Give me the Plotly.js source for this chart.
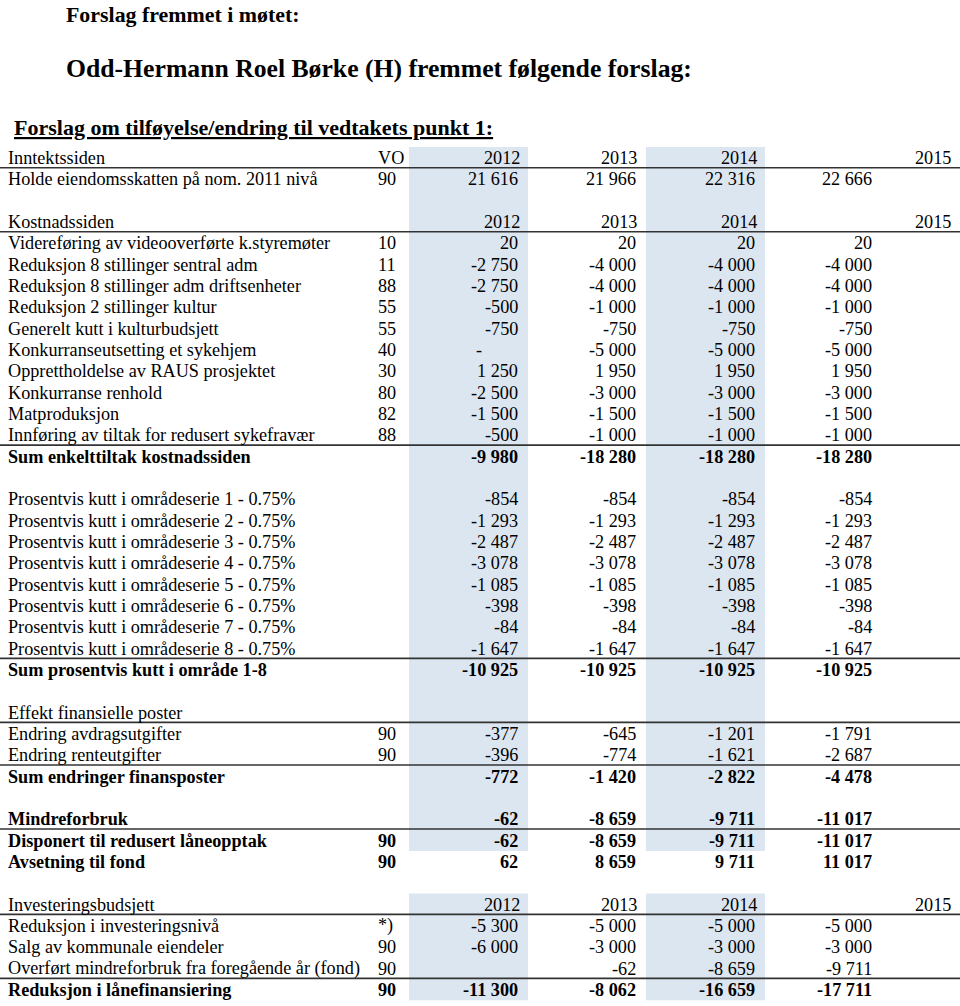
<!DOCTYPE html>
<html>
<head>
<meta charset="utf-8">
<script src="https://cdn.plot.ly/plotly-3.0.1.min.js"></script>
<style>html,body{margin:0;padding:0;background:#fff;}#chart{width:960px;height:1006px;}</style>
</head>
<body>
<div id="chart"></div>
<script>
// ---------- DATA ----------
const titleMeeting = "Forslag fremmet i møtet:";
const titleProposer = "Odd-Hermann Roel Børke (H) fremmet følgende forslag:";
const titleProposal = "Forslag om tilføyelse/endring til vedtakets punkt 1:";

const years = ["2012", "2013", "2014", "2015"];
const voHeader = "VO";

const rowLabels = [
  "Inntektssiden",
  "Holde eiendomsskatten på nom. 2011 nivå",
  "",
  "Kostnadssiden",
  "Videreføring av videooverførte k.styremøter",
  "Reduksjon 8 stillinger sentral adm",
  "Reduksjon 8 stillinger adm driftsenheter",
  "Reduksjon 2 stillinger kultur",
  "Generelt kutt i kulturbudsjett",
  "Konkurranseutsetting et sykehjem",
  "Opprettholdelse av RAUS prosjektet",
  "Konkurranse renhold",
  "Matproduksjon",
  "Innføring av tiltak for redusert sykefravær",
  "Sum enkelttiltak kostnadssiden",
  "",
  "Prosentvis kutt i områdeserie 1 - 0.75%",
  "Prosentvis kutt i områdeserie 2 - 0.75%",
  "Prosentvis kutt i områdeserie 3 - 0.75%",
  "Prosentvis kutt i områdeserie 4 - 0.75%",
  "Prosentvis kutt i områdeserie 5 - 0.75%",
  "Prosentvis kutt i områdeserie 6 - 0.75%",
  "Prosentvis kutt i områdeserie 7 - 0.75%",
  "Prosentvis kutt i områdeserie 8 - 0.75%",
  "Sum prosentvis kutt i område 1-8",
  "",
  "Effekt finansielle poster",
  "Endring avdragsutgifter",
  "Endring renteutgifter",
  "Sum endringer finansposter",
  "",
  "Mindreforbruk",
  "Disponert til redusert låneopptak",
  "Avsetning til fond",
  "",
  "Investeringsbudsjett",
  "Reduksjon i investeringsnivå",
  "Salg av kommunale eiendeler",
  "Overført mindreforbruk fra foregående år (fond)",
  "Reduksjon i lånefinansiering"
];

const voCodes = [
  "VO", "90", "", "", "10", "11", "88", "55", "55", "40", "30", "80", "82", "88", "",
  "", "", "", "", "", "", "", "", "", "",
  "", "", "90", "90", "",
  "", "", "90", "90",
  "", "", "*)", "90", "90", "90"
];

const v2012 = [null, 21616, null, null, 20, -2750, -2750, -500, -750, 0, 1250, -2500, -1500, -500, -9980,
  null, -854, -1293, -2487, -3078, -1085, -398, -84, -1647, -10925,
  null, null, -377, -396, -772,
  null, -62, -62, 62,
  null, null, -5300, -6000, null, -11300];
const v2013 = [null, 21966, null, null, 20, -4000, -4000, -1000, -750, -5000, 1950, -3000, -1500, -1000, -18280,
  null, -854, -1293, -2487, -3078, -1085, -398, -84, -1647, -10925,
  null, null, -645, -774, -1420,
  null, -8659, -8659, 8659,
  null, null, -5000, -3000, -62, -8062];
const v2014 = [null, 22316, null, null, 20, -4000, -4000, -1000, -750, -5000, 1950, -3000, -1500, -1000, -18280,
  null, -854, -1293, -2487, -3078, -1085, -398, -84, -1647, -10925,
  null, null, -1201, -1621, -2822,
  null, -9711, -9711, 9711,
  null, null, -5000, -3000, -8659, -16659];
const v2015 = [null, 22666, null, null, 20, -4000, -4000, -1000, -750, -5000, 1950, -3000, -1500, -1000, -18280,
  null, -854, -1293, -2487, -3078, -1085, -398, -84, -1647, -10925,
  null, null, -1791, -2687, -4478,
  null, -11017, -11017, 11017,
  null, null, -5000, -3000, -9711, -17711];

// ---------- STYLE / LAYOUT CONSTANTS ----------
const headerRowLabels = ["Inntektssiden", "Kostnadssiden", "Investeringsbudsjett"];
const boldRowLabels = ["Sum enkelttiltak kostnadssiden", "Sum prosentvis kutt i område 1-8",
  "Sum endringer finansposter", "Mindreforbruk", "Disponert til redusert låneopptak",
  "Avsetning til fond", "Reduksjon i lånefinansiering"];
const ruledRowLabels = ["Inntektssiden", "Kostnadssiden", "Innføring av tiltak for redusert sykefravær",
  "Prosentvis kutt i områdeserie 8 - 0.75%", "Effekt finansielle poster", "Endring renteutgifter",
  "Mindreforbruk", "Investeringsbudsjett", "Overført mindreforbruk fra foregående år (fond)"];

const W = 960, H = 1006;
const firstRowPx = 158, rowPitch = 21.33;
const py = p => (p - firstRowPx) / rowPitch;

const FONT = "'Liberation Serif', 'Times New Roman', serif";
const FS = 18.2;
const labelX = 7, voX = 377;
const valueRightX = [519, 637, 756, 873];
const headerRightX = [521, 638, 758, 952];
const bandX = [[409, 528], [646, 765]];
const bandColor = "#dce6f1";
const ruleColor = "#333333";

function fmt(v) {
  if (v === null || v === undefined) return "";
  if (v === 0) return "-" + "\u00a0".repeat(8);
  const s = Math.abs(v).toString().replace(/\B(?=(\d{3})+(?!\d))/g, "\u00a0");
  return (v < 0 ? "-" : "") + s;
}

const annotations = [];
function addText(x, y, text, anchor, bold, size) {
  if (!text) return;
  annotations.push({
    x: x, y: y, xref: "x", yref: "y", text: bold ? "<b>" + text + "</b>" : text,
    showarrow: false, xanchor: anchor, yanchor: "middle", borderpad: 0,
    font: {family: FONT, size: size || FS, color: "#000"}
  });
}

// titles
annotations.push({x: 64, y: py(14), xref: "x", yref: "y", text: "<b>" + titleMeeting + "</b>",
  showarrow: false, xanchor: "left", yanchor: "middle", font: {family: FONT, size: 21.9, color: "#000"}});
annotations.push({x: 64, y: py(68), xref: "x", yref: "y", text: "<b>" + titleProposer + "</b>",
  showarrow: false, xanchor: "left", yanchor: "middle", font: {family: FONT, size: 25.7, color: "#000"}});
annotations.push({x: 12, y: py(127), xref: "x", yref: "y", text: "<b><u>" + titleProposal + "</u></b>",
  showarrow: false, xanchor: "left", yanchor: "middle", font: {family: FONT, size: 22, color: "#000"}});

const series = [v2012, v2013, v2014, v2015];
rowLabels.forEach((lab, i) => {
  const bold = boldRowLabels.includes(lab);
  addText(labelX, i, lab, "left", bold);
  addText(voX, i, voCodes[i], "left", bold);
  if (headerRowLabels.includes(lab)) {
    years.forEach((yr, k) => addText(headerRightX[k], i, yr, "right", false));
  } else {
    series.forEach((arr, k) => addText(valueRightX[k], i, fmt(arr[i]), "right", bold));
  }
});

const shapes = [];
// shaded year columns
const bandRows = [
  [0, rowLabels.indexOf("Disponert til redusert låneopptak")],
  [rowLabels.indexOf("Investeringsbudsjett"), rowLabels.length - 1]
];
bandX.forEach(([x0, x1]) => {
  bandRows.forEach(([r0, r1]) => {
    shapes.push({type: "rect", xref: "x", yref: "y", x0: x0, x1: x1, y0: r0 - 0.52, y1: r1 + 0.49,
      fillcolor: bandColor, line: {width: 0}, layer: "below"});
  });
});
// horizontal rules
ruledRowLabels.forEach(lab => {
  const i = rowLabels.indexOf(lab);
  shapes.push({type: "line", xref: "x", yref: "y", x0: 0, x1: W, y0: i + 0.46, y1: i + 0.46,
    line: {color: ruleColor, width: 1.6}});
});

const layout = {
  width: W, height: H,
  margin: {l: 0, r: 0, t: 0, b: 0},
  paper_bgcolor: "#fff", plot_bgcolor: "#fff",
  showlegend: false,
  xaxis: {range: [0, W], visible: false, fixedrange: true},
  yaxis: {range: [py(H), py(0)], visible: false, fixedrange: true},
  annotations: annotations,
  shapes: shapes
};

Plotly.newPlot("chart", [{x: [], y: [], type: "scatter", mode: "markers", hoverinfo: "skip"}], layout,
  {staticPlot: true, displayModeBar: false});
</script>
</body>
</html>
